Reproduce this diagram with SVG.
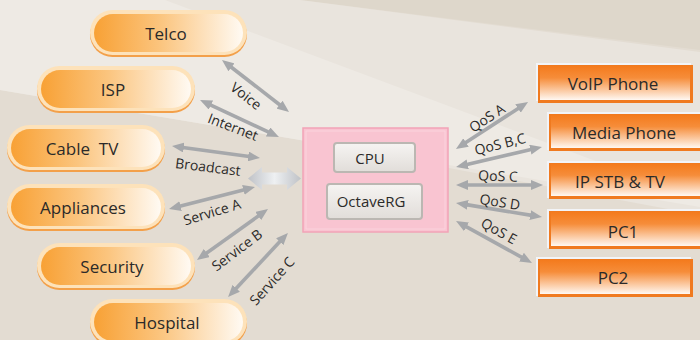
<svg xmlns="http://www.w3.org/2000/svg" width="700" height="340" viewBox="0 0 700 340">
<defs>
<style>
.t{font-family:"Open Sans","Noto Sans","Liberation Sans",sans-serif;fill:#2b2a29}
.n{font-size:17px;text-anchor:middle}
.l{font-size:14px;text-anchor:middle}
.b{font-size:15px;text-anchor:middle}
.ar{stroke:#a6a8ab;stroke-width:3.6;fill:none;marker-start:url(#ah);marker-end:url(#ah)}
.pshadow{fill:#f3a04a}
.prim{fill:#fde2ba}
.pbody{fill:url(#pg)}
.rrim{fill:#f2f4f8}
.rbord{fill:#f07a1f}
.rbody{fill:url(#rg)}
.btn{fill:url(#bg);stroke:#bbb7b2;stroke-width:2}
</style>
<linearGradient id="pg" x1="0" y1="0" x2="1" y2="0">
<stop offset="0" stop-color="#f8a135"/>
<stop offset="0.45" stop-color="#fbc57f"/>
<stop offset="1" stop-color="#fffaf3"/>
</linearGradient>
<linearGradient id="rg" x1="0" y1="0" x2="0" y2="1">
<stop offset="0" stop-color="#f47b1d"/>
<stop offset="0.35" stop-color="#f68d3a"/>
<stop offset="1" stop-color="#fff8f2"/>
</linearGradient>
<linearGradient id="bg" x1="0" y1="0" x2="0" y2="1">
<stop offset="0" stop-color="#f6f4f2"/>
<stop offset="1" stop-color="#e1ddd9"/>
</linearGradient>
<linearGradient id="sg" x1="0" y1="0" x2="1" y2="0">
<stop offset="0" stop-color="#bfc2c7"/>
<stop offset="0.5" stop-color="#eef0f2"/>
<stop offset="1" stop-color="#bfc2c7"/>
</linearGradient>
<marker id="ah" viewBox="0 0 12 10" refX="3" refY="5" markerWidth="12" markerHeight="10" markerUnits="userSpaceOnUse" orient="auto-start-reverse">
<path d="M0,0 L12,5 L0,10 z" fill="#a6a8ab"/>
</marker>
</defs>

<g id="background">
<rect x="0" y="0" width="700" height="340" fill="#e3dcd2"/>
<polygon points="300,0 700,0 700,50" fill="#ded7cb"/>
<polygon points="0,0 300,0 700,52 700,215 300,140 0,90" fill="#e9e4dd"/>
<polygon points="0,0 165,0 700,200 700,207 300,140 0,90" fill="#eeeae4"/>
</g>

<g id="connectors">
<line class="ar" x1="229.1" y1="65.5" x2="281.9" y2="106.5"/>
<line class="ar" x1="208.2" y1="103.8" x2="270.8" y2="133.2"/>
<line class="ar" x1="180.9" y1="147.2" x2="251.1" y2="156.8"/>
<line class="ar" x1="177.7" y1="206.8" x2="246.3" y2="189.2"/>
<line class="ar" x1="204.3" y1="254.7" x2="260.7" y2="214.3"/>
<line class="ar" x1="234.2" y1="290.4" x2="281.8" y2="239.6"/>
<line class="ar" x1="463.5" y1="144.1" x2="520.5" y2="106.9"/>
<line class="ar" x1="464.8" y1="165" x2="533.2" y2="149"/>
<line class="ar" x1="465" y1="185" x2="534" y2="185"/>
<line class="ar" x1="464.9" y1="204.4" x2="533.1" y2="215.6"/>
<line class="ar" x1="463.9" y1="225.4" x2="524.1" y2="258.6"/>
<polygon points="248,178.5 262,167 262,172.5 287,172.5 287,167 301,178.5 287,190 287,184.5 262,184.5 262,190" fill="url(#sg)"/>
<g class="t l">
<text transform="translate(246,96) rotate(38)" y="5">Voice</text>
<text transform="translate(233,127) rotate(21)" y="5">Internet</text>
<text transform="translate(208,167) rotate(7)" y="5">Broadcast</text>
<text transform="translate(212,212) rotate(-17)" y="5">Service A</text>
<text transform="translate(237,250) rotate(-37)" y="5">Service B</text>
<text transform="translate(272,281) rotate(-48)" y="5">Service C</text>
<text transform="translate(487,118) rotate(-33)" y="5">QoS A</text>
<text transform="translate(500,144) rotate(-14)" y="5">QoS B,C</text>
<text transform="translate(498,176) rotate(2)" y="5">QoS C</text>
<text transform="translate(500,202) rotate(9)" y="5">QoS D</text>
<text transform="translate(499,231) rotate(29)" y="5">QoS E</text>
</g>
</g>

<g id="telco">
<rect class="pshadow" x="90" y="12" width="157" height="45" rx="22.5"/>
<rect class="prim" x="90" y="10" width="157" height="45" rx="22.5"/>
<rect class="pbody" x="94" y="14" width="149" height="38" rx="19"/>
<text class="t n" x="166" y="40">Telco</text>
</g>
<g id="isp">
<rect class="pshadow" x="37" y="68" width="158" height="45" rx="22.5"/>
<rect class="prim" x="37" y="66" width="158" height="45" rx="22.5"/>
<rect class="pbody" x="41" y="70" width="150" height="38" rx="19"/>
<text class="t n" x="113" y="96">ISP</text>
</g>
<g id="cabletv">
<rect class="pshadow" x="7" y="127" width="158" height="45" rx="22.5"/>
<rect class="prim" x="7" y="125" width="158" height="45" rx="22.5"/>
<rect class="pbody" x="11" y="129" width="150" height="38" rx="19"/>
<text class="t n" x="82" y="155" style="white-space:pre">Cable  TV</text>
</g>
<g id="appliances">
<rect class="pshadow" x="7" y="186" width="158" height="45" rx="22.5"/>
<rect class="prim" x="7" y="184" width="158" height="45" rx="22.5"/>
<rect class="pbody" x="11" y="188" width="150" height="38" rx="19"/>
<text class="t n" x="83" y="214">Appliances</text>
</g>
<g id="security">
<rect class="pshadow" x="37" y="245" width="158" height="45" rx="22.5"/>
<rect class="prim" x="37" y="243" width="158" height="45" rx="22.5"/>
<rect class="pbody" x="41" y="247" width="150" height="38" rx="19"/>
<text class="t n" x="112" y="273">Security</text>
</g>
<g id="hospital">
<rect class="pshadow" x="90" y="301" width="157" height="45" rx="22.5"/>
<rect class="prim" x="90" y="299" width="157" height="45" rx="22.5"/>
<rect class="pbody" x="94" y="303" width="149" height="38" rx="19"/>
<text class="t n" x="167" y="329">Hospital</text>
</g>

<g id="gateway">
<rect x="303" y="128" width="145" height="104" fill="#f9c4d1" stroke="#f2a3b7" stroke-width="1.5"/>
<rect x="306" y="131" width="139" height="98" fill="none" stroke="#fbd3dd" stroke-width="1"/>
<g id="cpu">
<rect class="btn" x="334" y="143" width="81" height="29" rx="3"/>
<text class="t b" x="370" y="164">CPU</text>
</g>
<g id="octaverg">
<rect class="btn" x="327" y="184" width="95" height="35" rx="3"/>
<text class="t b" x="371" y="207">OctaveRG</text>
</g>
</g>

<g id="voipphone">
<rect class="rrim" x="536" y="63" width="155" height="38"/>
<rect class="rbord" x="538" y="65" width="155" height="38"/>
<rect class="rbody" x="540" y="66" width="150" height="34"/>
<text class="t n" x="613" y="90">VoIP Phone</text>
</g>
<g id="mediaphone">
<rect class="rrim" x="547" y="112" width="160" height="38"/>
<rect class="rbord" x="549" y="114" width="160" height="37"/>
<rect class="rbody" x="551" y="115" width="160" height="33"/>
<text class="t n" x="624" y="139">Media Phone</text>
</g>
<g id="ipstbtv">
<rect class="rrim" x="547" y="161" width="160" height="37"/>
<rect class="rbord" x="549" y="163" width="160" height="36"/>
<rect class="rbody" x="551" y="164" width="160" height="32"/>
<text class="t n" x="620" y="188">IP STB &amp; TV</text>
</g>
<g id="pc1">
<rect class="rrim" x="547" y="209" width="160" height="39"/>
<rect class="rbord" x="549" y="211" width="160" height="38"/>
<rect class="rbody" x="551" y="212" width="160" height="34"/>
<text class="t n" x="623" y="238">PC1</text>
</g>
<g id="pc2">
<rect class="rrim" x="536" y="257" width="155" height="39"/>
<rect class="rbord" x="538" y="259" width="155" height="38"/>
<rect class="rbody" x="540" y="260" width="150" height="34"/>
<text class="t n" x="613" y="284">PC2</text>
</g>
</svg>
